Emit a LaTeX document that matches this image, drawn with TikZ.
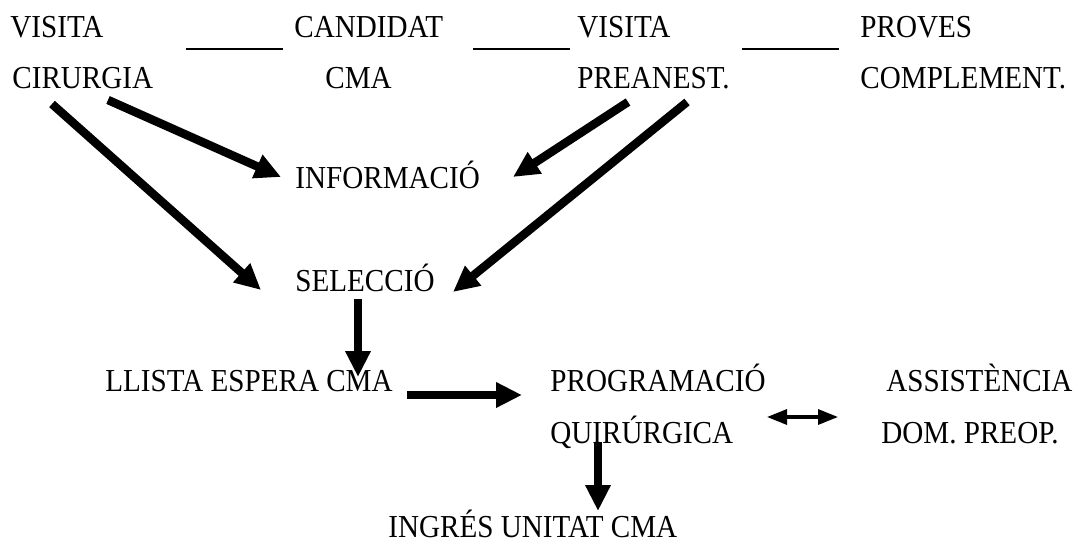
\documentclass[tikz,border=0pt]{standalone}
\usepackage{fontspec}
\setmainfont{Liberation Serif}[FakeStretch=0.91]
\usetikzlibrary{arrows.meta, calc}

\begin{document}
\begin{tikzpicture}[x=0.5pt, y=-0.5pt,
    lbl/.style={anchor=base west, inner sep=0pt, font=\fontsize{16}{19}\selectfont},
    big/.style={line width=4.25pt, -{Triangle[length=13pt, width=12pt]}},
    duo/.style={line width=1.6pt, {Triangle[length=10pt, width=7.5pt]}-{Triangle[length=10pt, width=7.5pt]}},
    rule/.style={line width=1pt}]
    \useasboundingbox (0,0) rectangle (1074,545);

    % Top row
    \node[lbl] (visA) at (10,38) {VISITA};
    \node[lbl] (cirA) at (12,89) {CIRURGIA};
    \node[lbl] (cand) at (294,38) {CANDIDAT};
    \node[lbl] (cma) at (325,89) {CMA};
    \node[lbl] (visB) at (577,38) {VISITA};
    \node[lbl] (pre) at (577,89) {PREANEST.};
    \node[lbl] (prov) at (860,38) {PROVES};
    \node[lbl] (compl) at (860,89) {COMPLEMENT.};

    % Lines between the steps
    \draw[rule] ($(cand.base west)+(-108,11)$) -- ($(cand.base west)+(-11,11)$);
    \draw[rule] ($(visB.base west)+(-104,11)$) -- ($(visB.base west)+(-7,11)$);
    \draw[rule] ($(prov.base west)+(-118,11)$) -- ($(prov.base west)+(-21,11)$);

    % Middle nodes
    \node[lbl] (info) at (295,189) {INFORMACIÓ};
    \node[lbl] (sel) at (295,291) {SELECCIÓ};
    \node[lbl] (llista) at (105,391) {LLISTA ESPERA CMA};
    \node[lbl] (prog) at (550,391) {PROGRAMACIÓ};
    \node[lbl] (quir) at (550,443) {QUIRÚRGICA};
    \node[lbl] (assist) at (886,391) {ASSISTÈNCIA};
    \node[lbl] (dom) at (881,443) {DOM. PREOP.};
    \node[lbl] (ingres) at (388,537) {INGRÉS UNITAT CMA};

    % Arrows
    \draw[big] ($(cirA.base west)+(96,11)$) -- ($(info.base west)+(-14,-12)$);
    \draw[big] ($(cirA.base west)+(40,15)$) -- ($(sel.base west)+(-34,-1)$);
    \draw[big] ($(pre.base west)+(51,13)$) -- ($(info.base west)+(218,-12)$);
    \draw[big] ($(pre.base west)+(110,13)$) -- ($(sel.base west)+(158,1)$);
    \draw[big] ($(sel.base west)+(63,8)$) -- ($(llista.base west)+(253,-14)$);
    \draw[big] ($(llista.base west)+(302,4)$) -- ($(prog.base west)+(-28,4)$);
    \draw[big] ($(quir.base west)+(48,-1)$) -- ($(ingres.base west)+(210,-26)$);
    \draw[duo] ($(quir.base west)+(217,-26)$) -- ($(dom.base west)+(-43,-26)$);
\end{tikzpicture}
\end{document}
